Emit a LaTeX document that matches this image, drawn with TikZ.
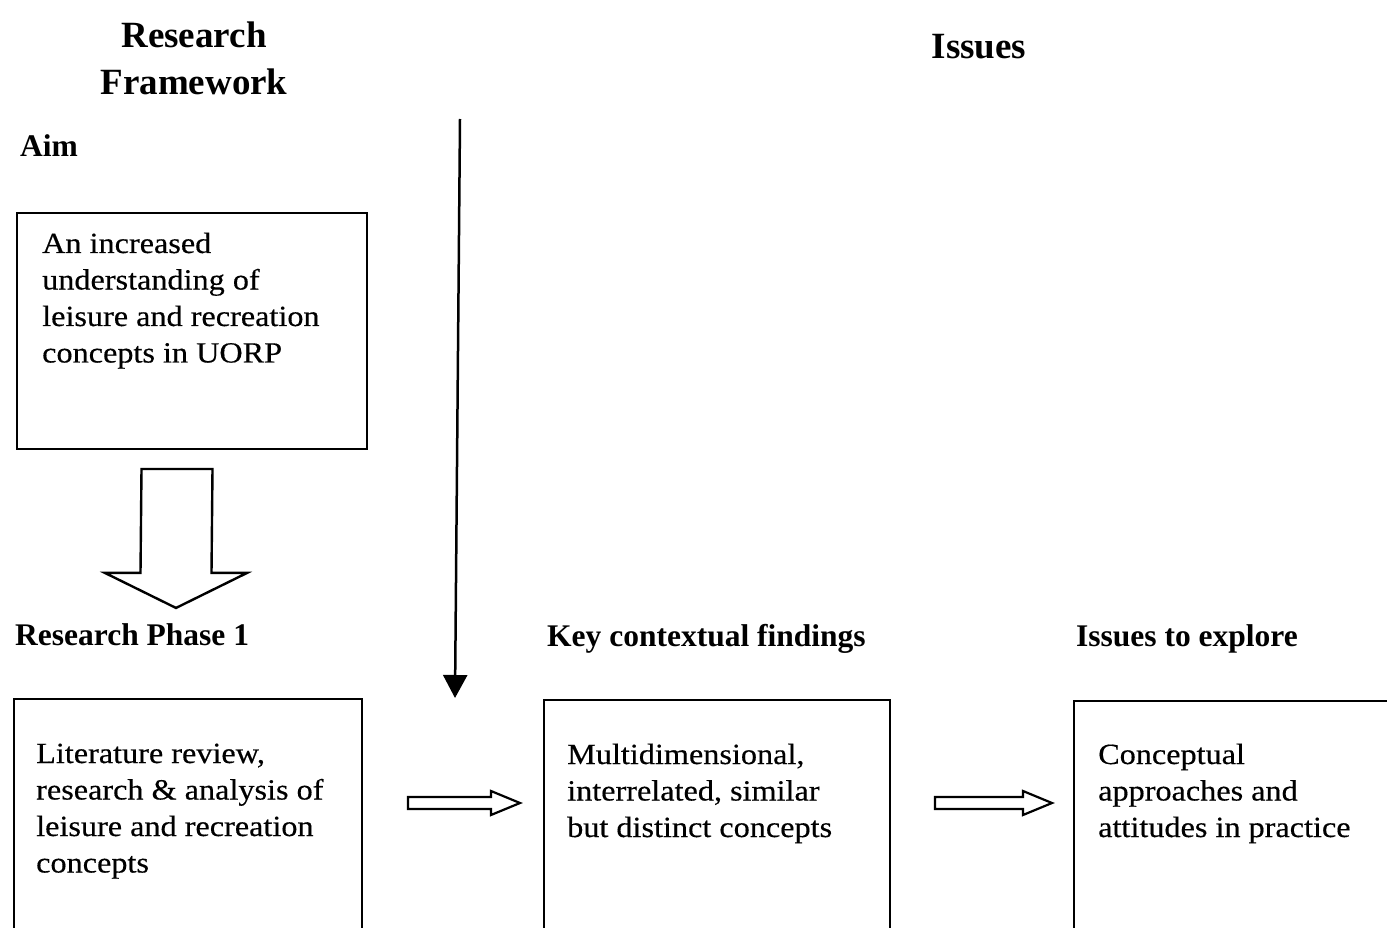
\documentclass[tikz,border=0pt]{standalone}
\usepackage{fontspec}
\setmainfont{Liberation Serif}
\newfontfamily\bodyfont[FakeStretch=1.1,FakeBold=0.4]{Liberation Serif}
\usetikzlibrary{arrows.meta,calc}

% left-aligned (or centred) stack of lines whose baseline is the first line
\newcommand{\linestack}[2][l]{\begin{tabular}[t]{@{}#1@{}}#2\end{tabular}}

\begin{document}
\begin{tikzpicture}[x=1pt,y=-1pt,
  box/.style={draw, line width=2pt, rectangle, inner sep=0pt, anchor=north west},
  heading/.style={font=\fontsize{37}{47}\selectfont\bfseries, inner sep=0pt, anchor=base},
  subhead/.style={font=\fontsize{31.5}{38}\selectfont\bfseries, inner sep=0pt, anchor=base west},
  bodytext/.style={font=\bodyfont\fontsize{29.3}{36.5}\selectfont, inner sep=0pt, anchor=base west},
  blockarrow/.style={draw, line width=2.4pt, fill=white, line join=miter},
  flowline/.style={line width=2.5pt, -{Triangle[length=23pt,width=24pt]}}
]
\useasboundingbox (0,0) rectangle (1387,928);
\clip (0,0) rectangle (1387,928);

% column headings
\node[heading] (frametitle) at (194,48) {\linestack[c]{Research\\Framework}};
\node[heading] (issuestitle) at (979,59) {Issues};

% aim
\node[subhead] (aimlabel) at (20,157) {Aim};
\node[box, minimum width=350pt, minimum height=236pt] (aimbox) at (16,212) {};
\node[bodytext] (aimtext) at ($(aimbox.north west)+(26,41)$)
  {\linestack{An increased\\understanding of\\leisure and recreation\\concepts in UORP}};

% phase 1 row labels
\node[subhead] (phaselabel) at (15,645) {Research Phase 1};
\node[subhead] (findlabel) at (547,646) {Key contextual findings};
\node[subhead] (explorelabel) at (1076,646) {Issues to explore};

% phase 1 row boxes (run past the lower edge)
\node[box, minimum width=348pt, minimum height=260pt] (phasebox) at (13,698) {};
\node[box, minimum width=346pt, minimum height=260pt] (findbox) at (543,699) {};
\node[box, minimum width=340pt, minimum height=260pt] (explorebox) at (1073,700) {};

\node[bodytext] (phasetext) at ($(phasebox.north west)+(23,65)$)
  {\linestack{Literature review,\\research \& analysis of\\leisure and recreation\\concepts}};
\node[bodytext] (findtext) at ($(findbox.north west)+(24,65)$)
  {\linestack{Multidimensional,\\interrelated, similar\\but distinct concepts}};
\node[bodytext] (exploretext) at ($(explorebox.north west)+(25,64)$)
  {\linestack{Conceptual\\approaches and\\attitudes in practice}};

% hollow block arrow from the aim down to phase 1
\coordinate (bigtop) at ($(aimbox.south west)+(161,19)$);
\coordinate (bigtip) at ($(phaselabel.north west)+(161,-15)$);
\draw[blockarrow]
  ($(bigtop)+(-35.5,0)$) -- ($(bigtip)+(-35.5,-35)$) -- ($(bigtip)+(-71,-35)$)
  -- (bigtip) -- ($(bigtip)+(71,-35)$) -- ($(bigtip)+(35.5,-35)$)
  -- ($(bigtop)+(35.5,0)$) -- cycle;

% issues line coming down onto the phase 1 row
\coordinate (issuestop) at (460,119);
\coordinate (issuesend) at (455,698);
\draw[flowline] (issuestop) -- (issuesend);

% small hollow arrows between the boxes
\coordinate (s1) at ($(phasebox.north east)+(45,105)$);
\coordinate (e1) at ($(findbox.north west)+(-23,104)$);
\coordinate (s2) at ($(findbox.north east)+(44,104)$);
\coordinate (e2) at ($(explorebox.north west)+(-21,103)$);
\foreach \s/\e in {s1/e1, s2/e2}{
  \draw[blockarrow, line width=2.2pt]
    ($(\s)+(0,-6)$) -- ($(\e)+(-29,-6)$) -- ($(\e)+(-29,-12)$) -- (\e)
    -- ($(\e)+(-29,12)$) -- ($(\e)+(-29,6)$) -- ($(\s)+(0,6)$) -- cycle;
}
\end{tikzpicture}
\end{document}
